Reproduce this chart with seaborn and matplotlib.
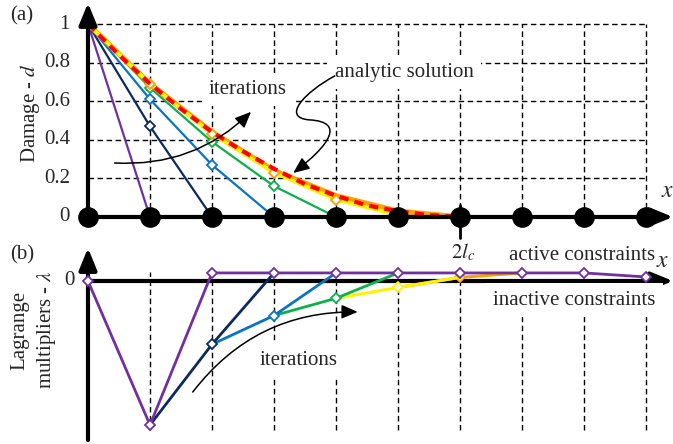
import seaborn as sns
import matplotlib.pyplot as plt
from matplotlib.path import Path
from matplotlib.patches import FancyArrowPatch

sns.set_theme(style="white")
plt.rcParams['font.family'] = ['Liberation Serif', 'DejaVu Serif']
plt.rcParams['mathtext.fontset'] = 'stix'

# ---- data (node index along x) ----
nodes = list(range(10))
node_zero = [0.0] * 10

# (a) damage per iteration
dmg_purple_x = [0, 1]
dmg_purple = [1.0, 0.0]
dmg_navy_x = [0, 1, 2]
dmg_navy = [1.0, 0.47, 0.0]
dmg_blue_x = [0, 1, 2, 3]
dmg_blue = [1.0, 0.61, 0.27, 0.0]
dmg_green_x = [0, 1, 2, 3, 4]
dmg_green = [1.0, 0.67, 0.39, 0.16, 0.0]
dmg_yellow_x = [0, 1, 2, 3, 4, 5]
dmg_yellow = [1.0, 0.69, 0.43, 0.23, 0.09, 0.01]
dmg_orange_x = [0, 1, 2, 3, 4, 5, 6]
dmg_orange = [1.0, 0.69, 0.44, 0.24, 0.11, 0.03, 0.0]
analytic_x = [0, 0.5, 1, 1.5, 2, 2.5, 3, 3.5, 4, 4.5, 5, 5.5, 6]
analytic_d = [1.0, 0.84, 0.69, 0.56, 0.44, 0.34, 0.25, 0.17, 0.11, 0.06, 0.03, 0.01, 0.0]
d_ticks = [0, 0.2, 0.4, 0.6, 0.8, 1]
d_tick_labels = ["0", "0.2", "0.4", "0.6", "0.8", "1"]

# (b) Lagrange multipliers per iteration
lam_purple_x = [0, 1, 2, 3, 4, 5, 6, 7, 8, 9]
lam_purple = [0.0, -1.0, 0.056, 0.056, 0.056, 0.056, 0.056, 0.056, 0.056, 0.028]
lam_navy_x = [1, 2, 3]
lam_navy = [-1.0, -0.44, 0.056]
lam_blue_x = [2, 3, 4]
lam_blue = [-0.44, -0.24, 0.056]
lam_green_x = [3, 4, 5]
lam_green = [-0.24, -0.12, 0.056]
lam_yellow_x = [4, 5, 6]
lam_yellow = [-0.12, -0.045, 0.025]
lam_orange_x = [5, 6, 7]
lam_orange = [-0.045, 0.025, 0.056]

PURPLE = "#7030A0"
NAVY = "#0B2A5E"
BLUE = "#0A74C4"
GREEN = "#0DB04B"
YELLOW = "#FFF200"
ORANGE = "#F5A400"
FS = 15

fig = plt.figure(figsize=(6.73, 4.44), dpi=100)
ax1 = fig.add_axes([0, 209 / 444, 1, 235 / 444])
ax2 = fig.add_axes([0, 0, 1, 209 / 444])
for ax in (ax1, ax2):
    ax.set_xlim(-1.419, 9.435)
    ax.axis("off")
ax1.set_ylim(-0.0933, 1.1244)
ax2.set_ylim(-1.132, 0.3194)

grid = dict(color="black", lw=1.0, linestyles=(0, (4, 2.5)), zorder=1)
mk = dict(marker="D", markersize=5, markerfacecolor="white", markeredgewidth=1.3)
axis_arrow = dict(arrowstyle="-|>,head_length=1.1,head_width=0.45", lw=3,
                  color="black", shrinkA=0, shrinkB=0, mutation_scale=12)

# ---- (a) damage ----
ax1.hlines([0.2, 0.4, 0.6, 0.8, 1.0], 0, 9, **grid)
ax1.vlines(nodes[1:], 0, 1, **grid)

sns.lineplot(x=dmg_purple_x, y=dmg_purple, ax=ax1, color=PURPLE, lw=1.6,
             markevery=[0], markeredgecolor=PURPLE, zorder=3, **mk)
sns.lineplot(x=dmg_navy_x, y=dmg_navy, ax=ax1, color=NAVY, lw=1.6,
             markevery=[1], markeredgecolor=NAVY, zorder=3, **mk)
sns.lineplot(x=dmg_blue_x, y=dmg_blue, ax=ax1, color=BLUE, lw=1.6,
             markevery=[1, 2], markeredgecolor=BLUE, zorder=3, **mk)
sns.lineplot(x=dmg_green_x, y=dmg_green, ax=ax1, color=GREEN, lw=1.6,
             markevery=[1, 2, 3], markeredgecolor=GREEN, zorder=3, **mk)
sns.lineplot(x=dmg_orange_x, y=dmg_orange, ax=ax1, color=ORANGE, lw=3.8, zorder=4)
sns.lineplot(x=dmg_yellow_x, y=dmg_yellow, ax=ax1, color=YELLOW, lw=2.6,
             markevery=[1, 2, 3, 4], markeredgecolor=ORANGE, zorder=5, **mk)
sns.lineplot(x=analytic_x, y=analytic_d, ax=ax1, color="#FF0000", lw=3,
             linestyle=(0, (2.2, 1.5)), zorder=6)

ax1.annotate("", xy=(9.435, 0), xytext=(0, 0), arrowprops=axis_arrow, zorder=7)
ax1.annotate("", xy=(0, 1.109), xytext=(0, 0), arrowprops=axis_arrow, zorder=7)
ax1.plot([6, 6], [0.062, -0.109], color="black", lw=2, clip_on=False, zorder=7)
sns.scatterplot(x=nodes, y=node_zero, ax=ax1, s=190, color="black",
                edgecolor="black", zorder=10, clip_on=False)

for v, lab in zip(d_ticks, d_tick_labels):
    ax1.text(-0.29, v, lab, ha="right", va="center", fontsize=FS)
ax1.text(-1.065, 1.04, "(a)", ha="center", va="center", fontsize=FS)
ax1.text(-0.935, 0.539, "Damage - $d$", rotation=90, ha="center", va="center", fontsize=FS)
ax1.text(9.34, 0.13, "$x$", ha="center", va="center", fontsize=FS + 2)

white_box = dict(boxstyle="square,pad=0.35", fc="white", ec="none")
ax1.text(2.58, 0.66, "iterations", ha="center", va="center", fontsize=FS,
         bbox=white_box, zorder=2)
ax1.text(5.10, 0.75, "analytic solution", ha="center", va="center", fontsize=FS,
         bbox=white_box, zorder=2)
ax1.annotate("", xy=(2.63, 0.545), xytext=(0.43, 0.28),
             arrowprops=dict(arrowstyle="-|>,head_length=0.7,head_width=0.3",
                             connectionstyle="arc3,rad=0.22", color="black",
                             lw=1.1, shrinkA=0, shrinkB=0, mutation_scale=14), zorder=8)

squiggle = Path([(3.98, 0.731), (3.50, 0.648), (3.10, 0.513), (3.58, 0.503),
                 (4.15, 0.492), (3.90, 0.373), (3.31, 0.228)],
                [Path.MOVETO, Path.CURVE4, Path.CURVE4, Path.CURVE4,
                 Path.CURVE4, Path.CURVE4, Path.CURVE4])
ax1.add_patch(FancyArrowPatch(path=squiggle, arrowstyle="-|>,head_length=0.7,head_width=0.3",
                              mutation_scale=14, color="black", lw=1.1, zorder=8))

# ---- (b) Lagrange multipliers ----
ax2.vlines(nodes[1:], -1.035, 0.06, **grid)

sns.lineplot(x=lam_orange_x, y=lam_orange, ax=ax2, color=ORANGE, lw=2.2,
             markevery=[1], markeredgecolor=ORANGE, zorder=3, **mk)
sns.lineplot(x=lam_yellow_x, y=lam_yellow, ax=ax2, color=YELLOW, lw=2.2,
             markevery=[1], markeredgecolor=YELLOW, zorder=4, **mk)
sns.lineplot(x=lam_green_x, y=lam_green, ax=ax2, color=GREEN, lw=2.0,
             markevery=[1], markeredgecolor=GREEN, zorder=5, **mk)
sns.lineplot(x=lam_blue_x, y=lam_blue, ax=ax2, color=BLUE, lw=2.0,
             markevery=[1], markeredgecolor=BLUE, zorder=6, **mk)
sns.lineplot(x=lam_navy_x, y=lam_navy, ax=ax2, color=NAVY, lw=2.0,
             markevery=[1], markeredgecolor=NAVY, zorder=7, **mk)
sns.lineplot(x=lam_purple_x, y=lam_purple, ax=ax2, color=PURPLE, lw=2.0,
             markevery=list(range(10)), markeredgecolor=PURPLE, zorder=8, **mk)

ax2.annotate("", xy=(9.435, 0), xytext=(0, 0), arrowprops=axis_arrow, zorder=2)
ax2.annotate("", xy=(0, 0.229), xytext=(0, -1.104), arrowprops=axis_arrow, zorder=2)

ax2.text(-0.21, 0, "0", ha="right", va="center", fontsize=FS)
ax2.text(-1.065, 0.18, "(b)", ha="center", va="center", fontsize=FS)
ax2.text(-0.86, -0.34, "Lagrange\nmultipliers - $\\lambda$", rotation=90,
         ha="center", va="center", fontsize=FS, multialignment="center", linespacing=1.35)
ax2.text(9.27, 0.132, "$x$", ha="center", va="center", fontsize=FS + 2)
ax2.text(6.05, 0.20, "$2l_c$", ha="center", va="center", fontsize=FS)
ax2.text(9.15, 0.18, "active constraints", ha="right", va="center", fontsize=FS)
ax2.text(9.15, -0.132, "inactive constraints", ha="right", va="center", fontsize=FS,
         bbox=white_box, zorder=2)
ax2.text(3.40, -0.549, "iterations", ha="center", va="center", fontsize=FS,
         bbox=white_box, zorder=2)
ax2.annotate("", xy=(4.35, -0.215), xytext=(1.69, -0.771),
             arrowprops=dict(arrowstyle="-|>,head_length=0.7,head_width=0.3",
                             connectionstyle="arc3,rad=-0.25", color="black",
                             lw=1.1, shrinkA=0, shrinkB=0, mutation_scale=14), zorder=8)

fig.savefig("out.png", dpi=100)
